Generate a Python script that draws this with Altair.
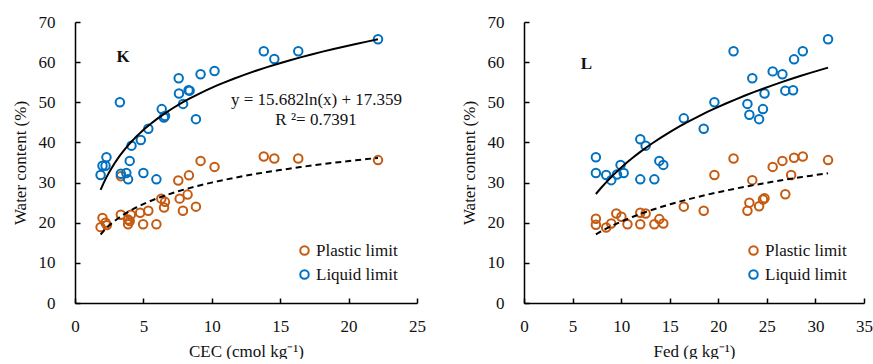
import altair as alt
import pandas as pd

FONT = "Liberation Serif"
SERIES = ["Plastic limit", "Liquid limit"]
COLORS = ["#C55A11", "#0070C0"]
Y_TICKS = [0, 10, 20, 30, 40, 50, 60, 70]
K_X_TICKS = [0, 5, 10, 15, 20, 25]
L_X_TICKS = [0, 5, 10, 15, 20, 25, 30, 35]

# Panel K : CEC (cmol kg-1)
k_cec_ll = [3.28, 7.58, 9.18, 10.2, 7.6, 8.3, 8.38, 7.9, 6.34, 6.5, 6.58, 8.84, 5.36, 4.81,
            4.13, 4.0, 2.3, 2.01, 2.23, 1.87, 5.0, 5.95, 3.35, 3.75, 3.88, 13.8, 14.57, 16.32, 22.15]
k_ll = [50.0, 56.0, 57.0, 57.8, 52.2, 53.0, 52.9, 49.6, 48.3, 46.2, 46.6, 45.8, 43.4, 40.6,
        39.2, 35.4, 36.3, 34.2, 34.2, 31.9, 32.4, 30.8, 32.2, 32.4, 30.8, 62.7, 60.8, 62.7, 65.7]
k_cec_pl = [1.87, 2.01, 2.23, 2.33, 3.35, 3.35, 3.88, 4.0, 3.88, 4.08, 4.76, 5.36, 4.98, 5.95,
            6.31, 6.58, 6.51, 7.55, 7.65, 8.33, 8.23, 7.89, 8.84, 9.18, 10.2, 13.8, 14.57, 16.32, 22.15]
k_pl = [18.9, 21.2, 20.0, 19.4, 22.0, 31.6, 20.8, 20.4, 19.6, 22.0, 22.5, 23.0, 19.6, 19.6,
        26.0, 25.2, 23.8, 30.5, 26.0, 31.8, 27.0, 23.0, 24.0, 35.4, 33.9, 36.5, 36.0, 36.0, 35.6]

# Panel L : Fed (g kg-1)
l_fed_ll = [19.6, 16.45, 18.5, 11.97, 12.52, 7.4, 13.93, 14.34, 9.94, 7.4, 8.46, 8.98, 9.57, 10.26,
            11.97, 13.42, 21.57, 31.3, 28.7, 27.8, 25.6, 26.6, 23.5, 24.76, 26.9, 27.7, 23.0, 24.6, 23.2, 24.2]
l_ll = [50.0, 46.0, 43.4, 40.8, 39.2, 36.3, 35.4, 34.4, 34.4, 32.4, 31.9, 30.6, 32.0, 32.4,
        30.8, 30.8, 62.7, 65.7, 62.7, 60.7, 57.7, 57.0, 56.0, 52.2, 52.9, 53.0, 49.6, 48.3, 46.9, 45.8]
l_fed_pl = [7.4, 7.4, 8.46, 8.98, 9.5, 10.03, 10.65, 11.97, 12.52, 11.97, 13.42, 13.93, 14.34, 16.45,
            18.5, 19.6, 21.57, 25.6, 26.6, 27.8, 28.7, 31.3, 23.5, 27.5, 26.9, 23.2, 23.0, 24.6, 24.76, 24.2]
l_pl = [21.0, 19.5, 18.8, 19.8, 22.3, 21.5, 19.6, 22.5, 22.3, 19.6, 19.6, 20.9, 19.8, 24.0,
        23.0, 31.9, 36.0, 33.9, 35.4, 36.2, 36.5, 35.6, 30.6, 31.9, 27.1, 25.0, 23.0, 25.8, 26.1, 24.1]

EQ_LINES = ["y = 15.682ln(x) + 17.359", "R \u00b2= 0.7391"]


def long_df(xl, yl, xp, yp):
    return pd.DataFrame({
        "x": xp + xl,
        "value": yp + yl,
        "series": ["Plastic limit"] * len(xp) + ["Liquid limit"] * len(xl),
    })


def text_layer(txt, x, y, bold=False):
    return alt.Chart(pd.DataFrame({"t": [txt]})).mark_text(
        font=FONT, fontSize=17, fontWeight="bold" if bold else "normal",
        color="#111111", align="center", baseline="middle"
    ).encode(text="t:N", x=alt.value(x), y=alt.value(y))


def axis(values, title, pad):
    return alt.Axis(
        values=values, title=title, format="d", grid=False,
        domainColor="black", domainWidth=1.5,
        tickColor="black", tickWidth=1.5, tickSize=alt.ExprRef(expr="-5"),
        labelFont=FONT, labelFontSize=17, labelColor="#111111", labelPadding=pad,
        labelFlush=False, labelOverlap=False,
        titleFont=FONT, titleFontSize=17, titleFontWeight="normal", titleColor="#111111",
        titlePadding=9,
    )


def panel(df, xmax, xticks, xtitle, letter, letter_xy, legend_xy, width, eq=False):
    x_enc = alt.X("x:Q", scale=alt.Scale(domain=[0, xmax], nice=False), axis=axis(xticks, xtitle, 20))
    y_enc = alt.Y("value:Q", scale=alt.Scale(domain=[0, 70], nice=False),
                  axis=axis(Y_TICKS, "Water content (%)", 25))
    base = alt.Chart(df)
    pts = base.mark_point(filled=False, size=72, strokeWidth=2, opacity=1, shape="circle").encode(
        x=x_enc, y=y_enc,
        color=alt.Color("series:N", scale=alt.Scale(domain=SERIES, range=COLORS),
                        legend=alt.Legend(title=None, orient="none",
                                          legendX=legend_xy[0], legendY=legend_xy[1],
                                          labelFont=FONT, labelFontSize=17, labelColor="#111111",
                                          symbolType="circle", symbolSize=72, symbolStrokeWidth=2,
                                          labelOffset=3, rowPadding=6, padding=0)),
    )
    ll = base.transform_filter(alt.datum.series == "Liquid limit").transform_regression(
        "x", "value", method="log").mark_line(color="black", strokeWidth=2).encode(
        x="x:Q", y="value:Q")
    pl = base.transform_filter(alt.datum.series == "Plastic limit").transform_regression(
        "x", "value", method="log").mark_line(color="black", strokeWidth=2, strokeDash=[6, 4]).encode(
        x="x:Q", y="value:Q")
    layers = [pts, ll, pl, text_layer(letter, letter_xy[0], letter_xy[1], bold=True)]
    if eq:
        layers.append(text_layer(EQ_LINES[0], 241.5, 78))
        layers.append(text_layer(EQ_LINES[1], 241, 98))
    return alt.layer(*layers).properties(width=width, height=281)


left = panel(long_df(k_cec_ll, k_ll, k_cec_pl, k_pl), 25, K_X_TICKS, "CEC (cmol kg\u207b\u00b9)",
             "K", (48, 35), (221, 220), 342, eq=True)
right = panel(long_df(l_fed_ll, l_ll, l_fed_pl, l_pl), 35, L_X_TICKS, "Fed (g kg\u207b\u00b9)",
              "L", (62.5, 42), (221, 220), 340)

chart = alt.hconcat(left, right, spacing=34).resolve_scale(color="independent").resolve_legend(
    color="independent"
).properties(
    padding={"left": 11, "top": 13, "right": 0, "bottom": 0}
).configure(font=FONT).configure_view(stroke=None)

chart.save("out.html", embed_options={"renderer": "svg", "actions": False})
